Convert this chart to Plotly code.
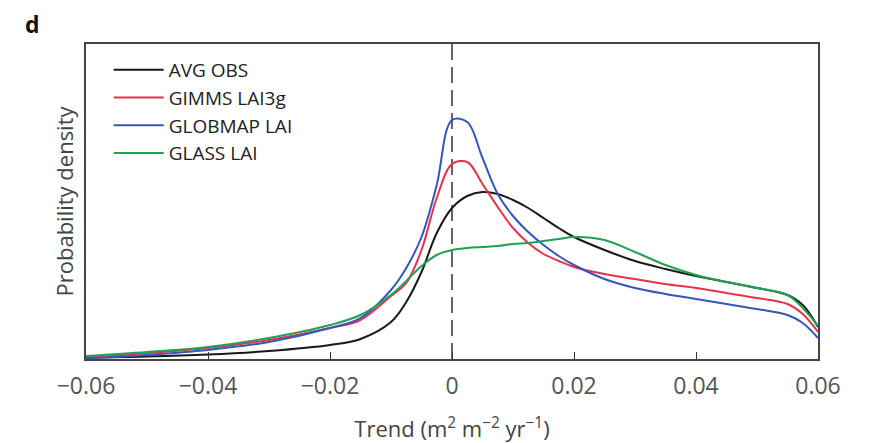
import plotly.graph_objects as go

# Trend values (m2 m-2 yr-1)
trend = [-0.06, -0.05, -0.04, -0.03, -0.02, -0.015, -0.01, -0.0075, -0.005, -0.0025,
         0.0, 0.0025, 0.005, 0.0075, 0.01, 0.0125, 0.015, 0.0175, 0.02, 0.025,
         0.03, 0.035, 0.04, 0.045, 0.05, 0.055, 0.0575, 0.06]

avg_obs = [0.3, 0.5, 0.9, 1.6, 2.8, 4.0, 7.4, 11.4, 17.4, 25.2,
           30.2, 32.6, 33.4, 33.0, 31.8, 30.2, 28.2, 26.2, 24.4, 21.8,
           19.6, 18.0, 16.6, 15.4, 14.2, 12.8, 10.8, 6.4]
gimms = [0.2, 1.2, 2.2, 3.8, 6.2, 7.8, 12.6, 15.2, 21.8, 32.2,
         39.0, 39.4, 35.0, 30.4, 26.2, 23.2, 21.0, 19.6, 18.4, 17.0,
         16.0, 15.0, 14.2, 13.2, 12.2, 11.0, 9.0, 5.4]
globmap = [0.1, 0.8, 1.8, 3.4, 6.2, 8.2, 13.8, 18.2, 24.4, 34.8,
           47.8, 47.4, 40.2, 33.0, 28.6, 25.4, 22.8, 20.6, 18.8, 16.0,
           14.2, 13.0, 12.0, 11.0, 10.0, 8.8, 7.2, 4.2]
glass = [0.6, 1.4, 2.4, 4.2, 6.8, 8.8, 12.8, 15.6, 18.6, 20.8,
         21.8, 22.2, 22.4, 22.6, 23.0, 23.2, 23.6, 24.0, 24.4, 23.8,
         21.4, 18.8, 16.8, 15.4, 14.2, 12.8, 10.2, 6.6]

series_names = ["AVG OBS", "GIMMS LAI3g", "GLOBMAP LAI", "GLASS LAI"]
series_values = [avg_obs, gimms, globmap, glass]
series_colors = ["#1a1a1a", "#e6334a", "#3556bb", "#22a055"]

tick_vals = [-0.06, -0.04, -0.02, 0, 0.02, 0.04, 0.06]
tick_text = ["\u22120.06", "\u22120.04", "\u22120.02", "0", "0.02", "0.04", "0.06"]

fig = go.Figure()
for name, vals, col in zip(series_names, series_values, series_colors):
    fig.add_trace(go.Scatter(x=trend, y=vals, mode="lines", name=name,
                             line=dict(color=col, width=2, shape="spline", smoothing=1.0)))

fig.add_shape(type="line", xref="x", yref="paper", x0=0, x1=0, y0=0, y1=1,
              line=dict(color="#333333", width=1.5, dash="16px,7px"), layer="below")

fig.update_layout(
    width=869, height=443,
    margin=dict(l=86, r=51, t=44, b=84),
    paper_bgcolor="white", plot_bgcolor="white",
    font=dict(family="Open Sans", color="#444444"),
    showlegend=True,
    legend=dict(x=0.031, y=0.978, xanchor="left", yanchor="top",
                bgcolor="rgba(0,0,0,0)", font=dict(size=19, color="#222222"),
                tracegroupgap=0, itemwidth=50),
    xaxis=dict(range=[-0.06, 0.06], tickvals=tick_vals, ticktext=tick_text,
               ticks="inside", ticklen=7, tickwidth=1.3, tickcolor="#333333",
               showline=True, linecolor="#444444", linewidth=1.5, mirror=True,
               showgrid=False, zeroline=False, ticklabelstandoff=6, automargin=False,
               tickfont=dict(size=23, color="#555555"),
               title=dict(text="Trend (m<sup>2</sup> m<sup>\u22122</sup> yr<sup>\u22121</sup>)",
                          font=dict(size=22, color="#444444"), standoff=23)),
    yaxis=dict(range=[0, 63], showticklabels=False, ticks="", automargin=False,
               showline=True, linecolor="#444444", linewidth=1.5, mirror=True,
               showgrid=False, zeroline=False,
               title=dict(text="Probability density", font=dict(size=22, color="#444444"),
                          standoff=5)),
)

fig.add_annotation(text="<b>d</b>", xref="paper", yref="paper", x=-0.086, y=1.065,
                   xanchor="left", yanchor="middle", showarrow=False,
                   font=dict(size=23, color="#111111", family="Open Sans"))

fig.write_html("out.html", config={"displayModeBar": False},
               post_script="document.body.style.margin='0px';")
